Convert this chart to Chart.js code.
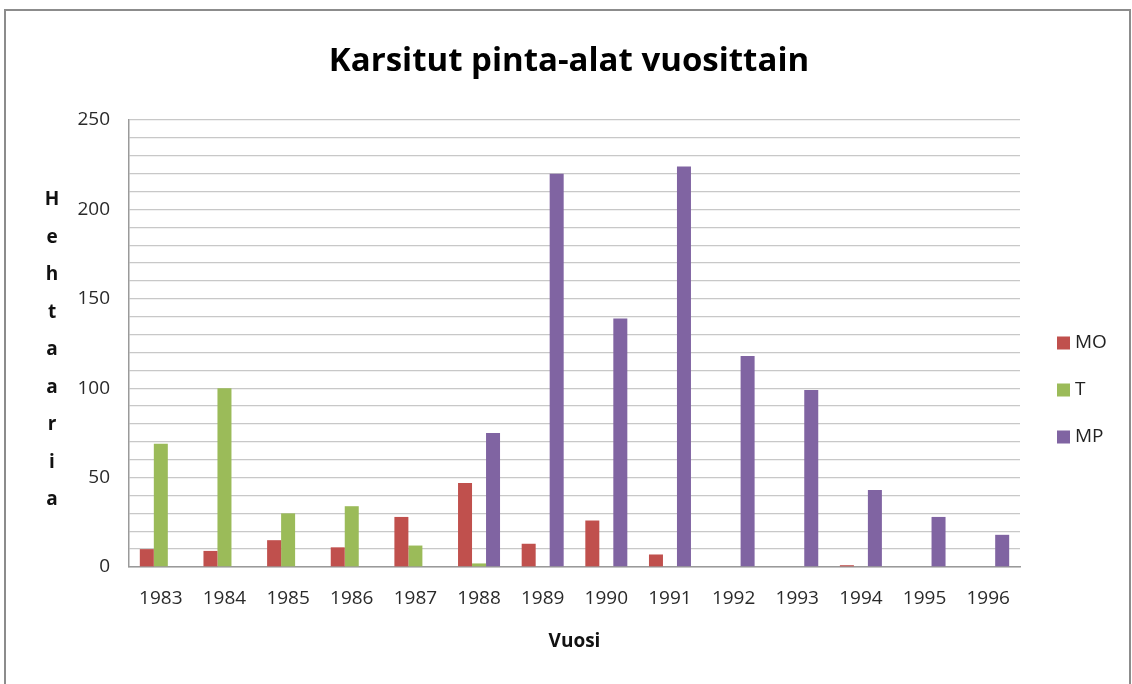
<!DOCTYPE html>
<html>
<head>
<meta charset="utf-8">
<script src="https://cdn.jsdelivr.net/npm/chart.js@4/dist/chart.umd.min.js"></script>
<style>
    html, body { margin: 0; padding: 0; background: #ffffff; overflow: hidden; }
    #frame { position: absolute; left: 4px; top: 9px; width: 1127px; height: 700px; border: 2px solid #8c8c8c; box-sizing: border-box; }
    #chart { position: absolute; left: 0; top: 0; }
</style>
</head>
<body>
<div id="frame"></div>
<canvas id="chart" width="1132" height="684"></canvas>
<script>
    // Karsitut pinta-alat, hehtaaria per vuosi
    const years = ["1983", "1984", "1985", "1986", "1987", "1988", "1989",
        "1990", "1991", "1992", "1993", "1994", "1995", "1996"];
    const moValues = [10, 9, 15, 11, 28, 47, 13, 26, 7, 0, 0, 1, 0, 0];
    const tValues = [69, 100, 30, 34, 12, 2, 0, 0, 0, 0, 0, 0, 0, 0];
    const mpValues = [0, 0, 0, 0, 0, 75, 220, 139, 224, 118, 99, 43, 28, 18];
    const seriesNames = ["MO", "T", "MP"];
    const chartTitle = "Karsitut pinta-alat vuosittain";
    const yLabelStep = 50;
    const yAxisLetters = "Hehtaaria".split("");

    const FONT = "'Open Sans', 'Liberation Sans', sans-serif";
    const colors = ["#c0504d", "#9bbb59", "#8064a2"];

    // title over the whole picture, stacked y axis letters and the legend at the right
    const sideText = {
        id: "sideText",
        afterDraw(chart) {
            const { ctx, chartArea, width } = chart;
            ctx.save();
            ctx.fillStyle = "#000000";
            ctx.font = `bold 33px ${FONT}`;
            ctx.textAlign = "center";
            ctx.textBaseline = "middle";
            ctx.fillText(chartTitle, width / 2 + 3, 62);

            ctx.fillStyle = "#111111";
            ctx.font = `bold 19px ${FONT}`;
            ctx.textBaseline = "alphabetic";
            yAxisLetters.forEach((ch, i) => {
                ctx.fillText(ch, 52, chartArea.top + 85 + i * 37.5);
            });

            ctx.font = `19px ${FONT}`;
            ctx.textAlign = "left";
            ctx.textBaseline = "middle";
            chart.data.datasets.forEach((ds, i) => {
                const y = chartArea.top + 223 + i * 47;
                ctx.fillStyle = ds.backgroundColor;
                ctx.fillRect(chartArea.right + 37, y - 6.5, 13, 13);
                ctx.fillStyle = "#222222";
                ctx.fillText(ds.label, chartArea.right + 55, y);
            });
            ctx.restore();
        },
    };

    const dataSets = [moValues, tValues, mpValues].map((values, i) => ({
        label: seriesNames[i],
        data: values,
        backgroundColor: colors[i],
        borderWidth: 0,
        categoryPercentage: 0.66,
        barPercentage: 1.0,
    }));

    new Chart(document.getElementById("chart").getContext("2d"), {
        type: "bar",
        data: { labels: years, datasets: dataSets },
        options: {
            responsive: false,
            animation: false,
            layout: { padding: { left: 0, right: 112, top: 120, bottom: 0 } },
            plugins: {
                legend: { display: false },
                tooltip: { enabled: false },
                title: { display: false },
            },
            scales: {
                x: {
                    grid: { display: false, drawTicks: false },
                    border: { color: "#9a9a9a", width: 1.5 },
                    ticks: { color: "#2a2a2a", font: { family: FONT, size: 19 }, padding: 20 },
                    title: {
                        display: true,
                        text: "Vuosi",
                        color: "#111111",
                        font: { family: FONT, size: 19, weight: "bold" },
                        padding: { top: 0, bottom: 31 },
                    },
                    afterFit: (scale) => { scale.height = 117; },
                },
                y: {
                    min: 0,
                    max: 250,
                    grid: { color: "#c8c8c8", lineWidth: 1.3, drawTicks: false },
                    border: { color: "#9a9a9a", width: 1.5 },
                    ticks: {
                        stepSize: 10,
                        autoSkip: false,
                        padding: 19,
                        color: "#2a2a2a",
                        font: { family: FONT, size: 19 },
                        callback: (v) => (v % yLabelStep === 0 ? String(v) : ""),
                    },
                    afterFit: (scale) => { scale.width = 129; },
                },
            },
        },
        plugins: [sideText],
    });
</script>
</body>
</html>
